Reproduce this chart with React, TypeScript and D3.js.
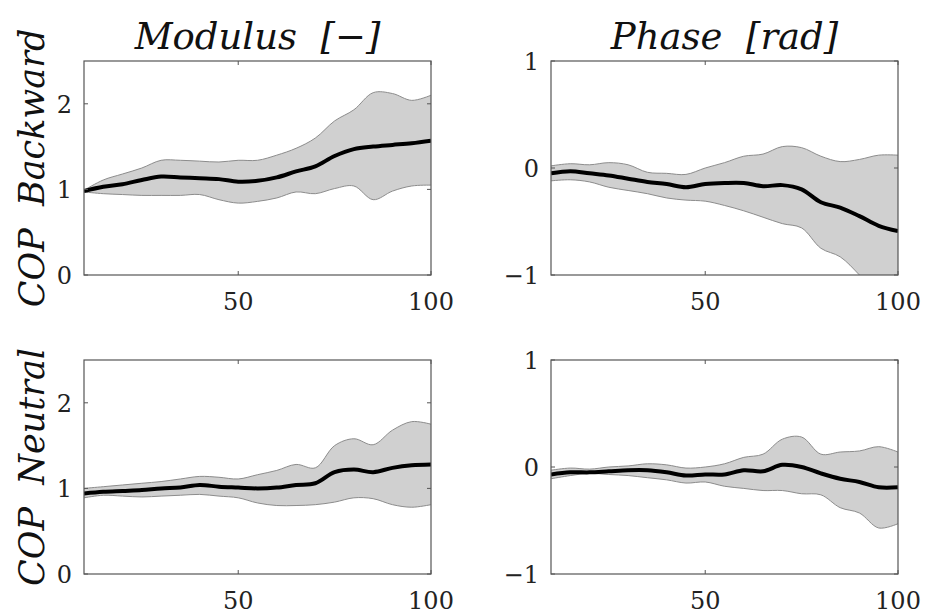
import { useEffect, useRef } from "react"
import * as d3 from "d3"

// normalised time (%), sampled every 5
const xs = [10, 15, 20, 25, 30, 35, 40, 45, 50, 55, 60, 65, 70, 75, 80, 85, 90, 95, 100]

const modBackMean = [0.98, 1.03, 1.06, 1.11, 1.15, 1.14, 1.13, 1.12, 1.09, 1.1, 1.14, 1.21, 1.27, 1.39, 1.47, 1.5, 1.52, 1.54, 1.57]
const modBackUpper = [0.99, 1.11, 1.18, 1.25, 1.34, 1.34, 1.33, 1.32, 1.34, 1.34, 1.4, 1.48, 1.6, 1.8, 1.93, 2.13, 2.12, 2.04, 2.1]
const modBackLower = [0.97, 0.95, 0.94, 0.93, 0.93, 0.93, 0.94, 0.88, 0.84, 0.86, 0.9, 0.97, 0.95, 1.01, 1.04, 0.88, 0.98, 1.04, 1.05]

const phaseBackMean = [-0.05, -0.03, -0.05, -0.07, -0.1, -0.13, -0.15, -0.18, -0.15, -0.14, -0.14, -0.17, -0.16, -0.2, -0.32, -0.37, -0.45, -0.54, -0.59]
const phaseBackUpper = [0.02, 0.04, 0.03, 0.05, 0.03, -0.04, -0.05, -0.06, 0.0, 0.05, 0.11, 0.13, 0.2, 0.19, 0.11, 0.06, 0.08, 0.12, 0.12]
const phaseBackLower = [-0.12, -0.11, -0.13, -0.18, -0.21, -0.24, -0.28, -0.3, -0.31, -0.35, -0.4, -0.46, -0.52, -0.56, -0.75, -0.83, -1.0, -1.2, -1.35]

const modNeutMean = [0.94, 0.96, 0.97, 0.98, 1.0, 1.01, 1.04, 1.02, 1.01, 1.0, 1.01, 1.04, 1.06, 1.19, 1.22, 1.19, 1.24, 1.27, 1.28]
const modNeutUpper = [1.0, 1.02, 1.04, 1.06, 1.08, 1.11, 1.14, 1.13, 1.11, 1.16, 1.21, 1.28, 1.24, 1.5, 1.58, 1.51, 1.68, 1.78, 1.75]
const modNeutLower = [0.89, 0.92, 0.91, 0.9, 0.91, 0.92, 0.93, 0.91, 0.89, 0.83, 0.8, 0.8, 0.81, 0.84, 0.89, 0.88, 0.81, 0.78, 0.81]

const phaseNeutMean = [-0.07, -0.05, -0.05, -0.04, -0.03, -0.03, -0.05, -0.08, -0.07, -0.07, -0.03, -0.04, 0.02, 0.0, -0.06, -0.11, -0.14, -0.19, -0.19]
const phaseNeutUpper = [-0.03, -0.01, -0.02, 0.0, 0.01, 0.03, 0.02, -0.01, 0.0, 0.03, 0.09, 0.12, 0.26, 0.28, 0.12, 0.14, 0.15, 0.19, 0.14]
const phaseNeutLower = [-0.11, -0.08, -0.06, -0.07, -0.08, -0.1, -0.12, -0.15, -0.14, -0.18, -0.2, -0.22, -0.22, -0.25, -0.26, -0.38, -0.43, -0.57, -0.53]

const colTitles = ["Modulus  [\u2212]", "Phase  [rad]"]
const rowTitles = ["COP  Backward", "COP  Neutral"]
const modTicks = [0, 1, 2]
const phaseTicks = [-1, 0, 1]
const xTicks = [50, 100]

const panels = [
  { row: 0, col: 0, mean: modBackMean, upper: modBackUpper, lower: modBackLower, domain: [0, 2.5], ticks: modTicks },
  { row: 0, col: 1, mean: phaseBackMean, upper: phaseBackUpper, lower: phaseBackLower, domain: [-1, 1], ticks: phaseTicks },
  { row: 1, col: 0, mean: modNeutMean, upper: modNeutUpper, lower: modNeutLower, domain: [0, 2.5], ticks: modTicks },
  { row: 1, col: 1, mean: phaseNeutMean, upper: phaseNeutUpper, lower: phaseNeutLower, domain: [-1, 1], ticks: phaseTicks },
]

const colLeft = [84, 551]
const rowTop = [61, 360]
const pw = 347
const ph = 214

const serif = "DejaVu Serif"

export default function App() {
  const svgRef = useRef<SVGSVGElement>(null)

  useEffect(() => {
    if (!svgRef.current) return
    const svg = d3.select(svgRef.current)
    svg.selectAll("*").remove()

    panels.forEach((p, i) => {
      const g = svg.append("g").attr("transform", `translate(${colLeft[p.col]},${rowTop[p.row]})`)
      const x = d3.scaleLinear().domain([10, 100]).range([0, pw])
      const y = d3.scaleLinear().domain(p.domain).range([ph, 0])

      const clipId = `clip-${i}`
      g.append("clipPath").attr("id", clipId).append("rect").attr("width", pw).attr("height", ph)

      const idx = d3.range(xs.length)
      const area = d3
        .area<number>()
        .x((j) => x(xs[j]))
        .y0((j) => y(p.lower[j]))
        .y1((j) => y(p.upper[j]))
        .curve(d3.curveCatmullRom)
      const edge = (vals: number[]) =>
        d3
          .line<number>()
          .x((j) => x(xs[j]))
          .y((j) => y(vals[j]))
          .curve(d3.curveCatmullRom)(idx)

      const plot = g.append("g").attr("clip-path", `url(#${clipId})`)
      plot.append("path").attr("d", area(idx)).attr("fill", "#d0d0d0")
      plot.append("path").attr("d", edge(p.upper)).attr("fill", "none").attr("stroke", "#8c8c8c").attr("stroke-width", 1)
      plot.append("path").attr("d", edge(p.lower)).attr("fill", "none").attr("stroke", "#8c8c8c").attr("stroke-width", 1)
      plot.append("path").attr("d", edge(p.mean)).attr("fill", "none").attr("stroke", "#000").attr("stroke-width", 4)

      // box
      g.append("rect").attr("width", pw).attr("height", ph).attr("fill", "none").attr("stroke", "#555").attr("stroke-width", 1.2)

      // inward ticks on all four sides
      xTicks.forEach((t) => {
        g.append("line").attr("x1", x(t)).attr("x2", x(t)).attr("y1", ph).attr("y2", ph - 4).attr("stroke", "#555")
        g.append("line").attr("x1", x(t)).attr("x2", x(t)).attr("y1", 0).attr("y2", 4).attr("stroke", "#555")
        g.append("text")
          .attr("x", x(t))
          .attr("y", ph + 35)
          .attr("text-anchor", "middle")
          .attr("font-family", serif)
          .attr("font-size", 24)
          .attr("fill", "#222")
          .text(t)
      })
      p.ticks.forEach((t) => {
        g.append("line").attr("x1", 0).attr("x2", 4).attr("y1", y(t)).attr("y2", y(t)).attr("stroke", "#555")
        g.append("line").attr("x1", pw).attr("x2", pw - 4).attr("y1", y(t)).attr("y2", y(t)).attr("stroke", "#555")
        g.append("text")
          .attr("x", -12)
          .attr("y", y(t) + 9)
          .attr("text-anchor", "end")
          .attr("font-family", serif)
          .attr("font-size", 24)
          .attr("fill", "#222")
          .text(t < 0 ? `\u2212${Math.abs(t)}` : t)
      })

      if (p.row === 0) {
        g.append("text")
          .attr("x", pw / 2)
          .attr("y", -12)
          .attr("text-anchor", "middle")
          .attr("font-family", serif)
          .attr("font-style", "italic")
          .attr("font-size", 37)
          .style("white-space", "pre")
          .attr("fill", "#111")
          .text(colTitles[p.col])
      }
      if (p.col === 0) {
        g.append("text")
          .attr("transform", `translate(-40,${ph / 2}) rotate(-90)`)
          .attr("text-anchor", "middle")
          .attr("font-family", serif)
          .attr("font-style", "italic")
          .attr("font-size", 35)
          .style("white-space", "pre")
          .attr("fill", "#111")
          .text(rowTitles[p.row])
      }
    })
  }, [])

  return (
    <svg
      ref={svgRef}
      width={926}
      height={613}
      style={{ position: "absolute", left: 0, top: 0, background: "#fff" }}
    />
  )
}
